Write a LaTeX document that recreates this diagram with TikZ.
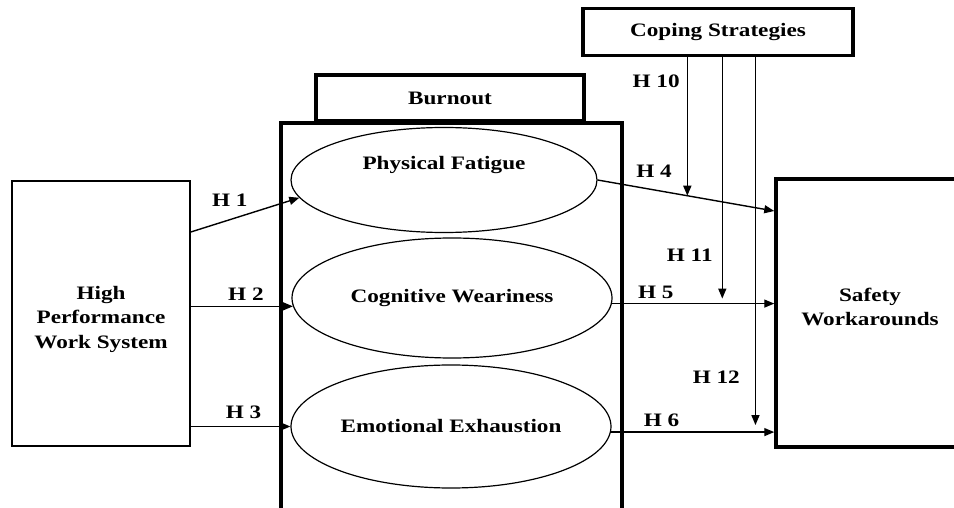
\documentclass[tikz,border=0pt]{standalone}
\usepackage{fontspec}
\setmainfont[FakeStretch=1.22]{Liberation Serif}
\usepackage{tikz}
\usetikzlibrary{shapes.geometric, arrows.meta, positioning, calc}
\newcommand{\hfont}{\fontsize{19}{24.5}\selectfont\bfseries}
\tikzset{
  box/.style={draw, line width=1.6pt, align=center, font=\hfont,
              inner sep=0pt},
  thickbox/.style={box, line width=3.5pt},
  factor/.style={draw, ellipse, line width=1.2pt, inner sep=0pt,
                 font=\hfont},
  arrow/.style={-{Triangle[length=10pt,width=8pt]}, line width=1.4pt},
  hyp/.style={font=\hfont, inner sep=0pt}
}

\begin{document}
\begin{tikzpicture}[x=1pt, y=-1pt]
  \clip (0,0) rectangle (954,508);
  \node[box, minimum width=178, minimum height=265] (hpws) at (101,313.5)
    {\rule{0pt}{25pt}High\\Performance\\Work System};
  \node[thickbox, minimum width=341, minimum height=407] (burnbox) at (451.5,326.5) {};
  \node[thickbox, minimum width=268, minimum height=46] (burnout) at (450,98)
    {Burnout};
  \node[factor, minimum width=306, minimum height=105] (pf) at (444,180) {};
  \node[hyp, anchor=base] (pftext) at (444,170) {Physical Fatigue};
  \node[factor, minimum width=320, minimum height=120] (cw) at (452,298)
    {Cognitive Weariness};
  \node[factor, minimum width=320, minimum height=123] (ee) at (451,426.5)
    {Emotional Exhaustion};
  \node[thickbox, minimum width=270, minimum height=47] (coping) at (718,32)
    {Coping Strategies};
  \node[thickbox, minimum width=188, minimum height=268] (safety) at (870,313)
    {Safety\\Workarounds\rule[-12pt]{0pt}{0pt}};

  \draw[arrow] ([yshift=81.5pt]hpws.east) -- node[hyp, above=12pt, pos=0.36]{H 1} (pf.187);
  \draw[arrow] (hpws.east |- cw.183) -- node[hyp, above=5pt, pos=0.54]{H 2} (cw.183);
  \draw[arrow] (hpws.east |- ee.west) -- node[hyp, above=7pt, pos=0.53]{H 3} (ee.west);

  \draw[arrow] (pf.east) -- node[hyp, above=12pt, pos=0.32]{H 4}
    coordinate[pos=0.508] (m4) ([yshift=102pt]safety.west);
  \draw[arrow] (cw.358) -- node[hyp, above=4pt, pos=0.27]{H 5}
    coordinate[pos=0.68] (m5) (cw.358 -| safety.west);
  \draw[arrow] (ee.358) -- node[hyp, above=5pt, pos=0.31]{H 6}
    coordinate[pos=0.885] (m6) (ee.358 -| safety.west);

  \draw[arrow] (coping.south -| m4) -- node[hyp, left=7pt, pos=0.17]{H 10} (m4);
  \draw[arrow] (coping.south -| m5) -- node[hyp, left=9pt, pos=0.82]{H 11} ([yshift=5pt]m5);
  \draw[arrow] (coping.south -| m6) -- node[hyp, left=15pt, pos=0.87]{H 12} ([yshift=7pt]m6);
\end{tikzpicture}
\end{document}
